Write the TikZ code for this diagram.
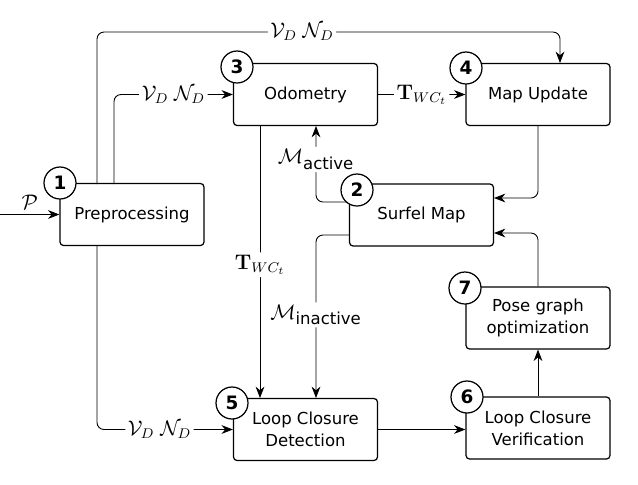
\documentclass[tikz,border=0pt]{standalone}
\usepackage{amsmath}
\usepackage[no-math]{fontspec}
\setmainfont{DejaVu Sans}
\usetikzlibrary{arrows.meta}

\begin{document}
\begin{tikzpicture}[x=0.02cm, y=-0.02cm,
    font=\fontsize{9.4}{12.5}\selectfont,
    block/.style={draw, rounded corners=2pt, line width=0.7pt, minimum width=2.88cm, minimum height=1.24cm, align=center, inner sep=2pt},
    num/.style={draw, circle, fill=white, line width=0.7pt, minimum size=0.64cm, inner sep=0pt, font=\fontsize{10.5}{12}\selectfont\bfseries},
    flow/.style={-{Stealth[length=6.5pt,width=5pt]}, line width=0.5pt, rounded corners=4pt},
    lbl/.style={fill=white, inner sep=1.5pt, font=\fontsize{12}{14}\selectfont}]
    \useasboundingbox (0,0) rectangle (638,484);

    \node[block] (pre) at (132,214.5) {Preprocessing};
    \node[block] (odo) at (305.5,94.5) {Odometry};
    \node[block] (map) at (538,94.5) {Map Update};
    \node[block] (surf) at (421.5,215) {Surfel Map};
    \node[block] (pose) at (538,318) {Pose graph\\optimization};
    \node[block] (lcd) at (305.5,429.5) {Loop Closure\\Detection};
    \node[block] (lcv) at (538,428) {Loop Closure\\Verification};

    \coordinate (in) at (0,214.5);
    \coordinate (pa) at (114,184);
    \coordinate (pb) at (97,184);
    \coordinate (pd) at (97,245);
    \coordinate (ta) at (302,32);
    \coordinate (mc) at (560,63);
    \coordinate (oa) at (260,126);
    \coordinate (la) at (260,398);
    \coordinate (ob) at (316,126);
    \coordinate (lb) at (316,398);
    \coordinate (sa) at (349,202);
    \coordinate (sb) at (349,235);
    \coordinate (sc) at (494,198);
    \coordinate (sd) at (494,233);
    \coordinate (mb) at (538,126);

    \draw[flow] (in) -- (pre.west) node[lbl, fill=none, midway, above=1pt] {$\mathcal{P}$};
    \draw[flow] (pa) |- (odo.west) node[lbl, pos=0.75] {$\mathcal{V}_D\;\mathcal{N}_D$};
    \draw[flow] (pb) |- (ta) node[lbl] {$\mathcal{V}_D\;\mathcal{N}_D$} -| (mc);
    \draw[flow] (pd) |- (lcd.west) node[lbl, pos=0.73] {$\mathcal{V}_D\;\mathcal{N}_D$};
    \draw[flow] (odo.east) -- (map.west) node[lbl, midway] {$\mathbf{T}_{WC_t}$};
    \draw[flow] (oa) -- (la) node[lbl, pos=0.51] {$\mathbf{T}_{WC_t}$};
    \draw[flow] (sa) -| (ob) node[lbl, pos=0.78] {$\mathcal{M}_{\text{\fontsize{9.4}{11}\selectfont active}}$};
    \draw[flow] (sb) -| (lb) node[lbl, pos=0.745] {$\mathcal{M}_{\text{\fontsize{9.4}{11}\selectfont inactive}}$};
    \draw[flow] (mb) |- (sc);
    \draw[flow] (pose.north) |- (sd);
    \draw[flow] (lcd.east) -- (lcd.east -| lcv.west);
    \draw[flow] (lcv.north) -- (pose.south);

    \node[num] (n1) at (60,183) {1};
    \node[num] (n2) at (357,190) {2};
    \node[num] (n3) at (237,67) {3};
    \node[num] (n4) at (466,68) {4};
    \node[num] (n5) at (232,403) {5};
    \node[num] (n6) at (467,397) {6};
    \node[num] (n7) at (465,288) {7};
\end{tikzpicture}
\end{document}
